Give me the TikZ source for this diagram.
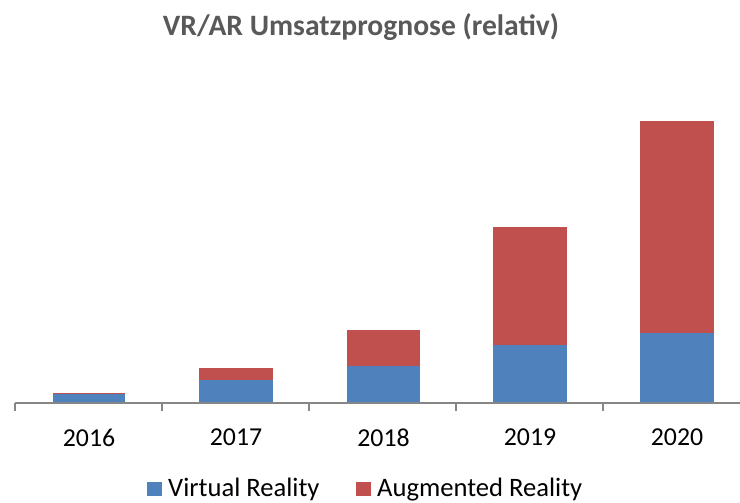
\documentclass[tikz,border=0pt]{standalone}
\usepackage{fontspec}
\setmainfont{Carlito}
\definecolor{vrblue}{HTML}{4F81BD}
\definecolor{arred}{HTML}{C0504D}
\definecolor{axisgray}{HTML}{868686}
\definecolor{titlegray}{HTML}{595959}
\begin{document}
\begin{tikzpicture}[x=1pt,y=-1pt]
		\tikzstyle{every node}+=[inner sep=0pt]
		\tikzstyle{year}=[font=\fontsize{25.8}{30}\selectfont]
		\tikzstyle{keytext}=[font=\fontsize{26.6}{30}\selectfont, anchor=base west]
		\tikzstyle{keybox}=[minimum size=14.5pt]
		\useasboundingbox (0,0) rectangle (740,503);
		\draw (361,27) node (title) [font=\bfseries\fontsize{29.6}{34}\selectfont, text=titlegray] {VR/AR Umsatzprognose (relativ)};
		% bars
		\fill [vrblue] (53,403) rectangle (125,394);
		\fill [arred] (53,394) rectangle (125,393);
		\fill [vrblue] (199,403) rectangle (273,379.5);
		\fill [arred] (199,379.5) rectangle (273,368);
		\fill [vrblue] (347,403) rectangle (420,365.5);
		\fill [arred] (347,365.5) rectangle (420,330);
		\fill [vrblue] (493,403) rectangle (567,344.5);
		\fill [arred] (493,344.5) rectangle (567,227);
		\fill [vrblue] (640,403) rectangle (714,332.5);
		\fill [arred] (640,332.5) rectangle (714,121);
		% axis
		\draw [axisgray, line width=2pt] (15,403) -- (740,403);
		\draw [axisgray, line width=1.5pt] (15,403) -- (15,411);
		\draw [axisgray, line width=1.5pt] (162,403) -- (162,411);
		\draw [axisgray, line width=1.5pt] (309,403) -- (309,411);
		\draw [axisgray, line width=1.5pt] (456,403) -- (456,411);
		\draw [axisgray, line width=1.5pt] (603,403) -- (603,411);
		\draw (89,437.7) node (y2016) [year] {2016};
		\draw (236,437.7) node (y2017) [year] {2017};
		\draw (383.5,437.7) node (y2018) [year] {2018};
		\draw (530,437.7) node (y2019) [year] {2019};
		\draw (677,437.7) node (y2020) [year] {2020};
		% legend
		\draw (154.5,489) node (vrkey) [keybox, fill=vrblue] {};
		\draw (168,496) node (vrtext) [keytext] {Virtual Reality};
		\draw (363.5,489) node (arkey) [keybox, fill=arred] {};
		\draw (377,496) node (artext) [keytext] {Augmented Reality};
	\end{tikzpicture}
\end{document}
